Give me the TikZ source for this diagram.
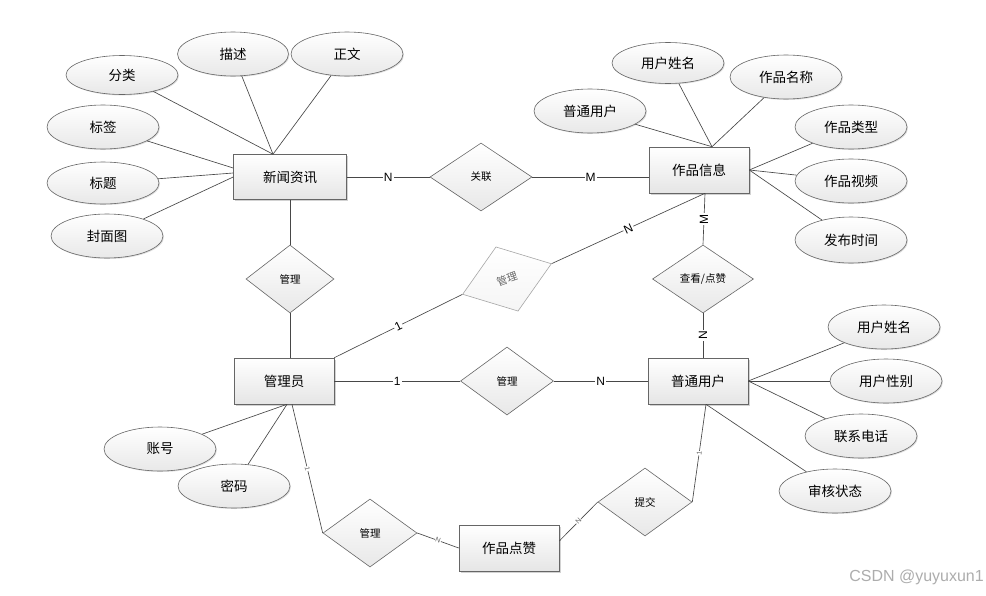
\documentclass[tikz,border=0pt]{standalone}
\usepackage{fontspec}
\setmainfont{Noto Sans CJK SC}
\newfontfamily\lat{Liberation Sans}
\usetikzlibrary{shapes.geometric,shadows,calc}
\begin{document}
\begin{tikzpicture}[x=1pt,y=-1pt,
  ent/.style={draw=black!60, line width=0.6pt, top color=white, bottom color=black!10,
    minimum width=100pt, minimum height=46pt, inner sep=0pt,
    font=\fontsize{13.5}{14}\selectfont,
    drop shadow={shadow xshift=1.5pt, shadow yshift=-1.5pt, fill=black!35}},
  attr/.style={ellipse, draw=black!60, line width=0.6pt, top color=white, bottom color=black!9,
    minimum width=112pt, minimum height=44pt, inner sep=0pt,
    font=\fontsize{13.5}{14}\selectfont,
    drop shadow={shadow xshift=1pt, shadow yshift=-1pt, fill=black!25}},
  rel/.style={diamond, draw=black!60, line width=0.6pt, top color=white, bottom color=black!9,
    minimum width=94pt, minimum height=68pt, inner sep=0pt,
    font=\fontsize{10.5}{11}\selectfont},
  con/.style={draw=black!72, line width=0.65pt},
  lab/.style={fill=white, inner sep=1pt, font=\lat\fontsize{12}{12}\selectfont},
  tinylab/.style={fill=white, inner sep=0.4pt, text=black!60, font=\lat\fontsize{7}{7}\selectfont}
]
\useasboundingbox[fill=white] (0,0) rectangle (986,595);

% entities
\node[ent, minimum width=113pt, minimum height=45pt] (news) at (290,177) {新闻资讯};
\node[ent] (work) at (699,170) {作品信息};
\node[ent] (admin) at (284,381) {管理员};
\node[ent] (user) at (698,381) {普通用户};
\node[ent] (like) at (509,548) {作品点赞};

% relationships
\node[rel, minimum width=102pt] (rel1) at (481,177) {关联};
\node[rel, minimum width=88pt] (m1) at (290,279) {管理};
\node[rel, draw=black!35, top color=white, bottom color=black!4, text=black!60, rotate=19] (grey) at (507,279) {管理};
\node[rel, minimum width=101pt] (see) at (703,279) {查看/点赞};
\node[rel, minimum width=93pt] (m2) at (507,381) {管理};
\node[rel] (m3) at (370,533) {管理};
\node[rel] (sub) at (645,502) {提交};

% attributes of news
\node[attr, minimum height=39pt] (fl) at (122,75) {分类};
\node[attr, minimum width=111pt] (ms) at (233,54) {描述};
\node[attr] (zw) at (347,54) {正文};
\node[attr] (bq) at (103,127) {标签};
\node[attr, minimum height=42pt] (bt) at (103,183) {标题};
\node[attr] (fm) at (107,236) {封面图};

% attributes of work
\node[attr, minimum height=41pt] (wn) at (668,63) {用户姓名};
\node[attr] (wm) at (786,77) {作品名称};
\node[attr] (wu) at (590,111) {普通用户};
\node[attr] (wt) at (851,127) {作品类型};
\node[attr] (wv) at (851,181) {作品视频};
\node[attr, minimum height=46pt] (wp) at (851,240) {发布时间};

% attributes of admin
\node[attr] (zh) at (160,449) {账号};
\node[attr] (mm) at (234,486) {密码};

% attributes of user
\node[attr] (un) at (884,327) {用户姓名};
\node[attr] (ug) at (886,381) {用户性别};
\node[attr] (ut) at (861,436) {联系电话};
\node[attr] (us) at (835,491) {审核状态};

% anchor points
\coordinate (newsT) at ($(news.north)+(-17,0)$);
\coordinate (newsL1) at ($(news.west)+(0,-9)$);
\coordinate (newsL2) at ($(news.west)+(0,-4)$);
\coordinate (workT) at ($(work.north)+(13,0)$);
\coordinate (workB) at ($(work.south)+(6,0)$);
\coordinate (adminB) at ($(admin.south)+(3,0)$);
\coordinate (adminB2) at ($(admin.south)+(8,0)$);
\coordinate (userB) at ($(user.south)+(8,0)$);
\coordinate (likeR) at ($(like.east)+(0,-7)$);

% attribute connectors
\draw[con] (fl) -- (newsT);
\draw[con] (ms) -- (newsT);
\draw[con] (zw) -- (newsT);
\draw[con] (bq) -- (newsL1);
\draw[con] (bt) -- (newsL2);
\draw[con] (fm) -- (news.west);

\draw[con] (wn) -- (workT);
\draw[con] (wm) -- (workT);
\draw[con] (wu) -- (workT);
\draw[con] (wt) -- (work.east);
\draw[con] (wv) -- (work.east);
\draw[con] (wp) -- (work.east);

\draw[con] (zh) -- (adminB);
\draw[con] (mm) -- (adminB);

\draw[con] (un) -- (user.east);
\draw[con] (ug) -- (user.east);
\draw[con] (ut) -- (user.east);
\draw[con] (us) -- (userB);

% relationship connectors
\draw[con] (news.east) -- node[lab]{N} (rel1.west);
\draw[con] (rel1.east) -- node[lab]{M} (rel1.east -| work.west);
\draw[con] (news.south) -- (m1.north);
\draw[con] (m1.south) -- (m1.south |- admin.north);
\draw[con] (admin.north east) -- node[lab, sloped]{1} (grey.west);
\draw[con] (grey.east) -- node[lab, sloped]{N} (workB);
\draw[con] (workB) -- node[lab, rotate=90]{M} (see.north);
\draw[con] (see.south) -- node[lab, rotate=90]{N} (see.south |- user.north);
\draw[con] (admin.east) -- node[lab]{1} (m2.west);
\draw[con] (m2.east) -- node[lab]{N} (user.west);
\draw[con] (adminB2) -- node[tinylab, sloped]{1} (m3.west);
\draw[con] (m3.east) -- node[tinylab, sloped]{N} (like.west);
\draw[con] (likeR) -- node[tinylab, sloped]{N} (sub.west);
\draw[con] (sub.east) -- node[tinylab, sloped]{1} (userB);

% watermark
\node[anchor=east, text=black!32, font=\lat\fontsize{16}{16}\selectfont, inner sep=0pt] (wmk) at (984,577) {CSDN @yuyuxun1};
\end{tikzpicture}
\end{document}
